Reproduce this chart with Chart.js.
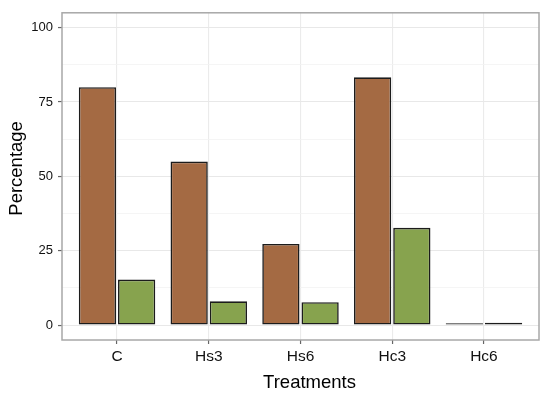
<!DOCTYPE html>
<html>
<head>
<meta charset="utf-8">
<script src="https://cdn.jsdelivr.net/npm/chart.js@4"></script>
<style>
  html, body { margin: 0; padding: 0; background: #fff; }
  #wrap { width: 550px; height: 399px; }
</style>
</head>
<body>
<div id="wrap"><canvas id="barChart" width="550" height="399"></canvas></div>
<script>
// values
const treatments = ["C", "Hs3", "Hs6", "Hc3", "Hc6"];
const brownValues = [80, 55, 27.3, 83.3, 0.6];
const greenValues = [15.3, 8, 7.7, 32.7, 0.8];
const yTicks = [0, 25, 50, 75, 100];

const FONT = "'Liberation Sans', Arial, Helvetica, sans-serif";

// panel border + axis titles, ggplot style
const panelPlugin = {
  id: "panel",
  afterDraw(chart) {
    const { ctx, chartArea } = chart;
    const { left, top, right, bottom } = chartArea;
    ctx.save();
    ctx.strokeStyle = "#a8a8a8";
    ctx.lineWidth = 1.5;
    ctx.strokeRect(left, top, right - left, bottom - top);

    ctx.fillStyle = "#000";
    ctx.font = "18.5px " + FONT;
    ctx.textAlign = "center";
    ctx.textBaseline = "middle";
    ctx.fillText("Treatments", (left + right) / 2 + 9, 383);

    ctx.translate(17, (top + bottom) / 2 - 8);
    ctx.rotate(-Math.PI / 2);
    ctx.fillText("Percentage", 0, 0);
    ctx.restore();
  }
};

const toPoints = (vals) => vals.map((v, i) => ({ x: i + 1, y: v }));

const ctx = document.getElementById("barChart");
new Chart(ctx, {
  type: "bar",
  data: {
    datasets: [
      {
        data: toPoints(brownValues),
        backgroundColor: "#a46a43",
        borderColor: "#1c1c1c",
        borderWidth: 1.6,
        borderSkipped: false,
      },
      {
        data: toPoints(greenValues),
        backgroundColor: "#87a34e",
        borderColor: "#1c1c1c",
        borderWidth: 1.6,
        borderSkipped: false,
      },
    ],
  },
  options: {
    responsive: false,
    animation: false,
    categoryPercentage: 0.855,
    barPercentage: 0.95,
    layout: { padding: { top: 11, right: 11, left: 0, bottom: 0 } },
    plugins: {
      legend: { display: false },
      tooltip: { enabled: false },
    },
    scales: {
      x: {
        type: "linear",
        min: 0.4,
        max: 5.6,
        offset: false,
        afterBuildTicks: (scale) => {
          scale.ticks = treatments.map((t, i) => ({ value: i + 1 }));
        },
        afterFit: (scale) => { scale.height = 59; },
        ticks: {
          autoSkip: false,
          maxRotation: 0,
          padding: 3,
          color: "#111",
          font: { family: FONT, size: 15.5 },
          callback: (v) => treatments[v - 1],
        },
        grid: {
          offset: false,
          color: "#ebebeb",
          lineWidth: 1.1,
          tickLength: 4,
          tickColor: "#666",
          tickWidth: 1.2,
        },
        border: { display: false },
      },
      y: {
        min: -5,
        max: 105,
        afterBuildTicks: (scale) => {
          // major ticks plus minor ones halfway between
          const list = [];
          yTicks.forEach((t, i) => {
            list.push({ value: t });
            if (i < yTicks.length - 1) list.push({ value: (t + yTicks[i + 1]) / 2 });
          });
          scale.ticks = list;
        },
        afterFit: (scale) => { scale.width = 62; },
        ticks: {
          autoSkip: false,
          padding: 5,
          color: "#111",
          font: { family: FONT, size: 13 },
          callback: (v) => (yTicks.includes(v) ? v : ""),
        },
        grid: {
          color: (c) => (yTicks.includes(c.tick.value) ? "#e8e8e8" : "#f3f3f3"),
          lineWidth: (c) => (yTicks.includes(c.tick.value) ? 1.1 : 0.8),
          tickLength: 4,
          tickColor: (c) => (yTicks.includes(c.tick.value) ? "#666" : "rgba(0,0,0,0)"),
          tickWidth: 1.2,
        },
        border: { display: false },
      },
    },
  },
  plugins: [panelPlugin],
});
</script>
</body>
</html>
